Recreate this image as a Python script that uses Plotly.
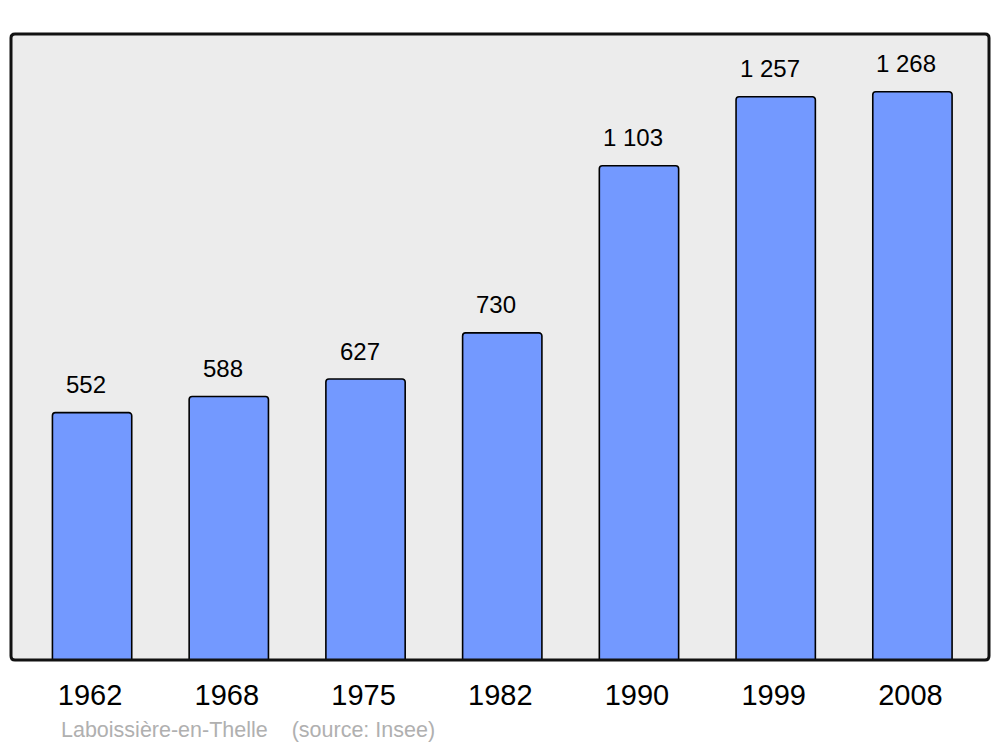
import plotly.graph_objects as go

years = ["1962", "1968", "1975", "1982", "1990", "1999", "2008"]
population = [552, 588, 627, 730, 1103, 1257, 1268]
value_labels = ["552", "588", "627", "730", "1 103", "1 257", "1 268"]
footer_text = "Laboissière-en-Thelle    (source: Insee)"

# the page body adds an 8px margin, so the figure is sized to fit the window
W, H = 992, 739
ML, MR, MT, MB = 3, 11, 26, 87
FONT = "Liberation Sans, Arial, sans-serif"

xs = list(range(len(years)))

fig = go.Figure()
fig.add_trace(go.Bar(
    x=xs, y=population,
    width=0.58,
    marker=dict(color="#7399ff", line=dict(color="#000000", width=1.6)),
    hoverinfo="skip",
))

for x, v, lab in zip(xs, population, value_labels):
    fig.add_annotation(x=x, y=v, text=lab, showarrow=False,
                       xanchor="center", yanchor="middle",
                       xshift=-6, yshift=28,
                       font=dict(family=FONT, size=24, color="#000000"))

# rounded frame around the plotting area
pw = W - ML - MR
ph = H - MT - MB
r = 4
rx, ry = r / pw, r / ph
path = (f"M {rx} 0 L {1-rx} 0 Q 1 0 1 {ry} L 1 {1-ry} Q 1 1 {1-rx} 1 "
        f"L {rx} 1 Q 0 1 0 {1-ry} L 0 {ry} Q 0 0 {rx} 0 Z")
fig.add_shape(type="path", path=path, xref="paper", yref="paper",
              line=dict(color="#111111", width=3), fillcolor="rgba(0,0,0,0)",
              layer="above")

fig.add_annotation(x=(51 - ML) / pw, y=-(722 - (H - MB)) / ph,
                   xref="paper", yref="paper", text=footer_text, showarrow=False,
                   xanchor="left", yanchor="middle",
                   font=dict(family=FONT, size=21.5, color="#b0b0b0"))

fig.update_layout(
    width=W, height=H,
    margin=dict(l=ML, r=MR, t=MT, b=MB, pad=0),
    paper_bgcolor="#ffffff",
    plot_bgcolor="#ececec",
    showlegend=False,
    barcornerradius=3,
    font=dict(family=FONT),
    xaxis=dict(
        range=[-0.593, 6.56],
        tickmode="array", tickvals=xs, ticktext=years,
        tickfont=dict(family=FONT, size=29, color="#000000"),
        ticks="outside", ticklen=9, tickcolor="rgba(0,0,0,0)",
        ticklabelshift=-2,
        showgrid=False, zeroline=False, showline=False,
        fixedrange=True,
    ),
    yaxis=dict(
        range=[0, 1397],
        showticklabels=False, showgrid=False, zeroline=False, showline=False,
        ticks="", fixedrange=True,
    ),
)

fig.write_html("out.html")
